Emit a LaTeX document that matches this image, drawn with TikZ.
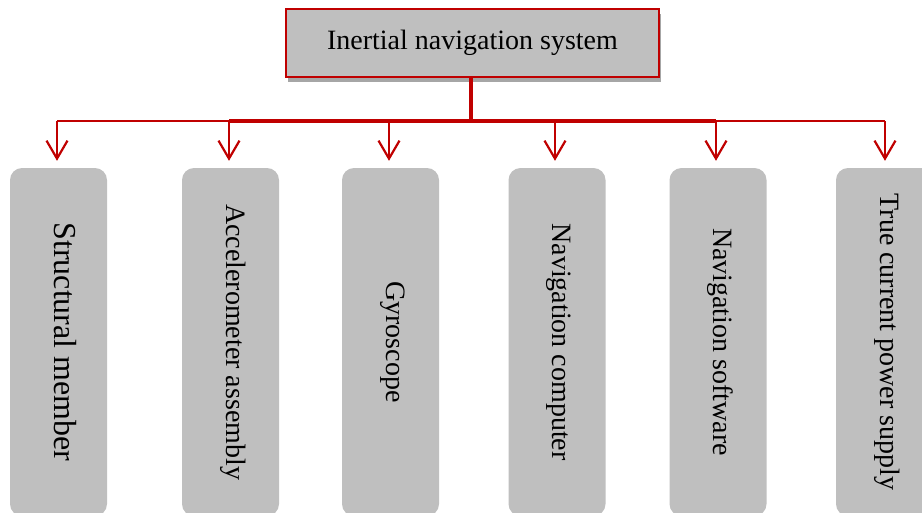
\documentclass[tikz,border=0pt]{standalone}
\usepackage{fontspec}
\setmainfont{Liberation Serif}
\usetikzlibrary{arrows.meta,shadows}
\definecolor{LinkClr}{RGB}{192,0,0}
\definecolor{BoxClr}{RGB}{191,191,191}

\begin{document}
\begin{tikzpicture}[x=1pt,y=-1pt,
  topbox/.style={draw=LinkClr,line width=2pt,fill=BoxClr,minimum width=373pt,minimum height=68pt,inner sep=0pt,
    drop shadow={shadow xshift=2pt,shadow yshift=-5pt,fill=black!35,opacity=1},font=\fontsize{28}{32}\selectfont},
  part/.style={fill=BoxClr,rounded corners=12pt,rotate=-90,minimum width=348pt,minimum height=97pt,inner sep=0pt,
    text height=18pt,text depth=9pt,font=\fontsize{28}{32}\selectfont},
  stem/.style={LinkClr,line width=4pt},
  bus/.style={LinkClr,line width=3.5pt},
  tap/.style={LinkClr,line width=2.2pt},
  down/.style={tap,-{Straight Barb[length=18pt,width=21pt]},shorten >=7pt}]

\useasboundingbox (0,0) rectangle (922,512);
\clip (0,0) rectangle (922,512);

\node[topbox] (ins) at (472.5,43) {Inertial navigation system};

\node[part,font=\fontsize{32}{36}\selectfont] (sm) at (58.5,342) {Structural member};
\node[part] (acc) at (230.5,342) {Accelerometer assembly};
\node[part] (gyr) at (390.5,342) {Gyroscope};
\node[part] (ncp) at (557,342) {Navigation computer};
\node[part] (nsw) at (718,342) {Navigation software};
\node[part] (pwr) at (884.5,342) {True current power supply};

\coordinate (j1) at (57,121);
\coordinate (j2) at (229,121);
\coordinate (j3) at (389,121);
\coordinate (j4) at (555,121);
\coordinate (j5) at (716,121);
\coordinate (j6) at (885,121);

\draw[stem] (ins.south -| 471,0) -- (471,121);
\draw[bus] (j2) -- (j5);
\draw[tap] (j1) -- (j2) (j5) -- (j6);

\foreach \j/\b in {j1/sm,j2/acc,j3/gyr,j4/ncp,j5/nsw,j6/pwr}
  \draw[down] (\j) -- (\j |- \b.west);

\end{tikzpicture}
\end{document}
